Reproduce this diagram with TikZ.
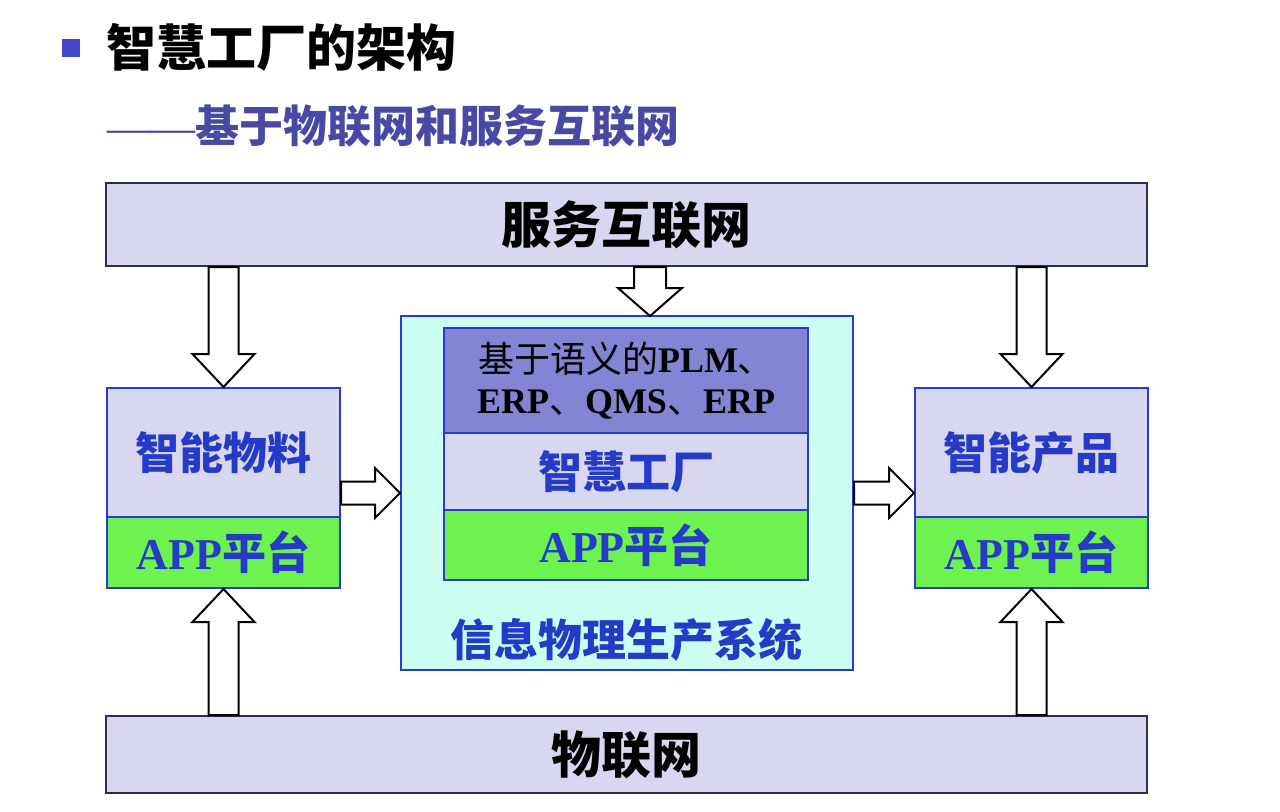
\documentclass[tikz,border=0pt]{standalone}
\usepackage{fontspec}
\setmainfont{Liberation Serif}
\newfontfamily\cjk{Noto Sans CJK SC}
\usetikzlibrary{calc}
\definecolor{lav}{RGB}{215,215,240}
\definecolor{plmfill}{RGB}{132,132,212}
\definecolor{appgreen}{RGB}{110,242,80}
\definecolor{cyanfill}{RGB}{204,255,242}
\definecolor{txtblue}{RGB}{38,58,200}
\definecolor{boxblue}{RGB}{40,60,200}
\definecolor{bardark}{RGB}{45,45,80}
\definecolor{subblue}{RGB}{72,72,165}
\definecolor{bullet}{RGB}{70,70,200}
\newcommand\varr[5]{\draw[barrow] let \p1=(#1),\p2=(#2),\n1={sign(\y2-\y1)*#5} in
  (\x1-#3,\y1) -- (\x1-#3,\y2-1pt*\n1) -- (\x1-#4,\y2-1pt*\n1) -- (\x1,\y2)
  -- (\x1+#4,\y2-1pt*\n1) -- (\x1+#3,\y2-1pt*\n1) -- (\x1+#3,\y1) -- cycle;}
\newcommand\harr[5]{\draw[barrow] let \p1=(#1),\p2=(#2),\n1={sign(\x2-\x1)*#5} in
  (\x1,\y1-#3) -- (\x2-1pt*\n1,\y1-#3) -- (\x2-1pt*\n1,\y1-#4) -- (\x2,\y1)
  -- (\x2-1pt*\n1,\y1+#4) -- (\x2-1pt*\n1,\y1+#3) -- (\x1,\y1+#3) -- cycle;}
\begin{document}
\begin{tikzpicture}[x=0.5pt,y=-0.5pt,
  bar/.style={draw=bardark,line width=1pt,fill=lav,minimum width=520.5pt,inner sep=0pt,
    font=\cjk\bfseries\fontsize{25}{30}\selectfont,text=black},
  upbox/.style={draw=boxblue,line width=1pt,fill=lav,minimum width=116.5pt,minimum height=64.5pt,inner sep=0pt,
    font=\cjk\bfseries\fontsize{22}{26}\selectfont,text=txtblue},
  appbox/.style={draw=boxblue,line width=1pt,fill=appgreen,inner sep=0pt,
    font=\bfseries\fontsize{22}{26}\selectfont,text=txtblue},
  barrow/.style={draw=black,line width=1pt,fill=white},
  lbl/.style={inner sep=0pt,font=\cjk\bfseries\fontsize{22}{26}\selectfont,text=txtblue}]
\useasboundingbox (0,0) rectangle (1280,811);
% header
\node[fill=bullet,minimum size=9pt,inner sep=0pt] (bul) at (71,47.5) {};
\node[anchor=west,inner sep=0pt,font=\cjk\bfseries\fontsize{25}{30}\selectfont,text=black] (title) at (106,47) {智慧工厂的架构};
\node[anchor=west,inner sep=0pt,font=\cjk\bfseries\fontsize{22}{26}\selectfont,text=subblue] (sub) at (107,126) {{\rmfamily\mdseries ——}基于物联网和服务互联网};
% bars
\node[bar,minimum height=41.5pt] (top) at (626.5,224.5) {服务互联网};
\node[bar,minimum height=38.5pt] (bot) at (626.5,754.5) {物联网};
% left
\node[upbox] (lt) at (223.5,452.5) {智能物料};
\node[appbox,minimum width=116.5pt,minimum height=35.5pt] (lapp) at (223.5,552.5) {APP{\cjk 平台}};
% right
\node[upbox] (rt) at (1031.5,452.5) {智能产品};
\node[appbox,minimum width=116.5pt,minimum height=35.5pt] (rapp) at (1031.5,552.5) {APP{\cjk 平台}};
% centre
\node[draw=boxblue,line width=1pt,fill=cyanfill,minimum width=226pt,minimum height=177pt,inner sep=0pt] (cps) at (627,493) {};
\node[draw=boxblue,line width=1pt,fill=plmfill,minimum width=182pt,minimum height=52.5pt,inner sep=0pt,
  align=center,font=\bfseries\fontsize{18}{20.5}\selectfont,text=black] (plm) at (626,380.5)
  {{\cjk\mdseries 基于语义的}PLM{\cjk\mdseries 、}\\ERP{\cjk\mdseries 、}QMS{\cjk\mdseries 、}ERP};
\node[draw=boxblue,line width=1pt,fill=lav,minimum width=182pt,minimum height=38.5pt,inner sep=0pt,
  font=\cjk\bfseries\fontsize{22}{26}\selectfont,text=txtblue] (sf) at (626,471.5) {智慧工厂};
\node[appbox,minimum width=182pt,minimum height=35pt] (capp) at (626,545) {APP{\cjk 平台}};
\node[lbl] (cpsl) at (626,640) {信息物理生产系统};
\coordinate (ctip) at (650,316);
% arrows
\varr{lt.north |- top.south}{lt.north}{7.5pt}{15.5pt}{16.5pt}
\varr{ctip |- top.south}{ctip}{8pt}{16pt}{14pt}
\varr{rt.north |- top.south}{rt.north}{7.5pt}{15.5pt}{16.5pt}
\varr{lapp.south |- bot.north}{lapp.south}{7.5pt}{15.5pt}{16.5pt}
\varr{rapp.south |- bot.north}{rapp.south}{7.5pt}{15.5pt}{16.5pt}
\harr{lt.east |- cps.west}{cps.west}{5.75pt}{12.5pt}{12.5pt}
\harr{cps.east}{rt.west |- cps.east}{5.75pt}{12.5pt}{12.5pt}
\end{tikzpicture}
\end{document}
